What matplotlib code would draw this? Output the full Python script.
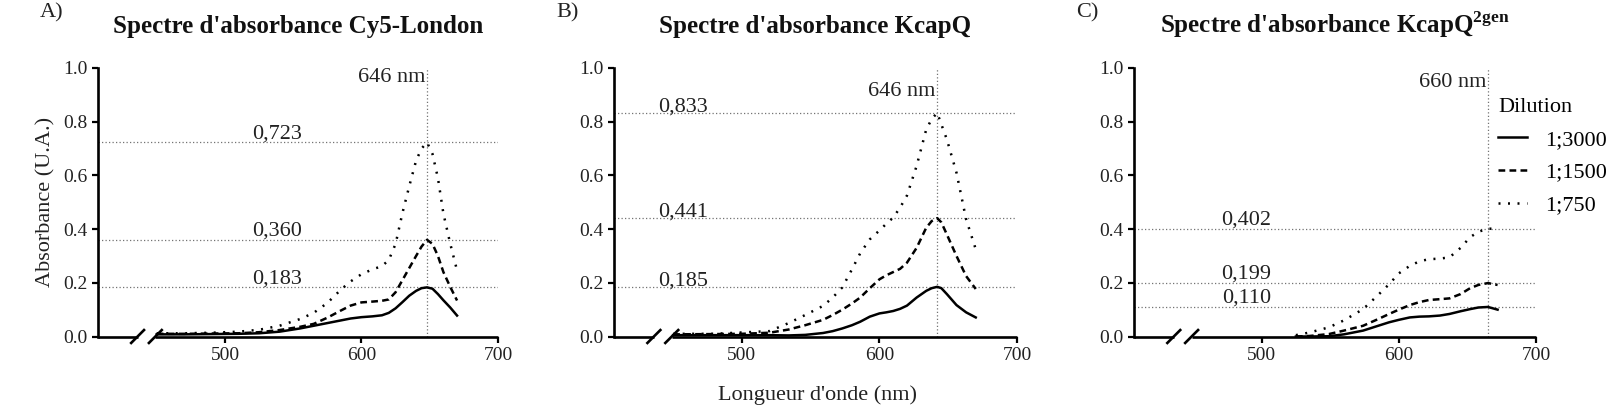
import matplotlib
matplotlib.use('Agg')
import matplotlib.pyplot as plt
from matplotlib.lines import Line2D

plt.rcParams['font.family'] = ['Liberation Serif', 'DejaVu Serif']
plt.rcParams['mathtext.fontset'] = 'custom'
plt.rcParams['mathtext.rm'] = 'Liberation Serif'
plt.rcParams['mathtext.bf'] = 'Liberation Serif:bold'

# --- données ---
dilutions = ['1;3000', '1;1500', '1;750']

# A) Cy5-London
wl_a = [450, 470, 490, 510, 525, 540, 555, 565, 575, 585, 592, 600, 608, 615, 620,
        625, 630, 635, 640, 644, 648, 652, 656, 660, 665, 670]
a_3000 = [0.008, 0.008, 0.009, 0.010, 0.012, 0.018, 0.030, 0.040, 0.050, 0.060, 0.067, 0.072,
          0.075, 0.079, 0.088, 0.105, 0.128, 0.152, 0.170, 0.180, 0.183, 0.178, 0.158, 0.135,
          0.108, 0.078]
a_1500 = [0.010, 0.010, 0.011, 0.012, 0.016, 0.024, 0.036, 0.047, 0.070, 0.097, 0.115, 0.127,
          0.130, 0.133, 0.138, 0.165, 0.210, 0.255, 0.300, 0.335, 0.360, 0.345, 0.300, 0.240,
          0.185, 0.134]
a_750 = [0.012, 0.012, 0.014, 0.018, 0.025, 0.040, 0.065, 0.088, 0.125, 0.175, 0.205, 0.232,
         0.250, 0.262, 0.285, 0.345, 0.460, 0.560, 0.655, 0.700, 0.723, 0.680, 0.590, 0.458,
         0.346, 0.246]

# B) KcapQ
wl_b = [450, 480, 500, 520, 534, 546, 559, 566, 573, 580, 586, 593, 600, 605, 610, 615,
        620, 627, 634, 638, 642, 645, 649, 656, 663, 670]
b_3000 = [0.005, 0.005, 0.005, 0.005, 0.004, 0.006, 0.013, 0.020, 0.030, 0.042, 0.055, 0.074,
          0.086, 0.090, 0.095, 0.103, 0.115, 0.145, 0.170, 0.180, 0.185, 0.180, 0.158, 0.117,
          0.090, 0.071]
b_1500 = [0.008, 0.009, 0.010, 0.014, 0.026, 0.042, 0.062, 0.080, 0.100, 0.123, 0.145, 0.180,
          0.213, 0.228, 0.240, 0.252, 0.275, 0.330, 0.405, 0.430, 0.441, 0.425, 0.380, 0.300,
          0.225, 0.177]
b_750 = [0.010, 0.010, 0.015, 0.020, 0.050, 0.080, 0.114, 0.145, 0.183, 0.250, 0.310, 0.362,
         0.395, 0.420, 0.443, 0.480, 0.525, 0.635, 0.771, 0.810, 0.833, 0.790, 0.734, 0.610,
         0.437, 0.325]

# C) KcapQ 2gen
wl_c = [525, 535, 549, 560, 574, 585, 593, 600, 608, 615, 622, 630, 637, 645, 652, 658,
        665, 672]
c_3000 = [0.000, 0.000, 0.001, 0.008, 0.022, 0.040, 0.053, 0.062, 0.071, 0.074, 0.075, 0.078,
          0.084, 0.094, 0.102, 0.108, 0.110, 0.100]
c_1500 = [0.000, 0.002, 0.009, 0.022, 0.040, 0.065, 0.084, 0.100, 0.117, 0.128, 0.136, 0.139,
          0.142, 0.158, 0.180, 0.192, 0.199, 0.192]
c_750 = [0.005, 0.015, 0.034, 0.060, 0.102, 0.155, 0.195, 0.235, 0.263, 0.280, 0.288, 0.290,
         0.295, 0.330, 0.370, 0.390, 0.402, 0.400]

maxima_a = [0.723, 0.360, 0.183]
maxima_b = [0.833, 0.441, 0.185]
maxima_c = [0.402, 0.199, 0.110]
pic_a, pic_b, pic_c = 648, 642, 665
pic_labels = ['646 nm', '646 nm', '660 nm']
titres = ["Spectre d'absorbance Cy5-London",
          "Spectre d'absorbance KcapQ",
          r"Spectre d'absorbance KcapQ$^{\mathbf{2gen}}$"]
lettres = ['A)', 'B)', 'C)']

W, H = 1612, 408
fig = plt.figure(figsize=(W / 100, H / 100), dpi=100)

styles = [dict(ls='-'), dict(ls=(0, (2.7, 1.7))), dict(ls=(0, (0.8, 3.0)))]
X0, BRK1, BRK2 = 407, 436, 449


def panneau(left, right, wl, series, maxima, x_pic, lbl_pic, y_pic, x_val, dy_val):
    ax = fig.add_axes([left / W, 1 - 336.5 / H, (right - left) / W, (336.5 - 68) / H])
    for s, st in zip(series, styles):
        ax.plot(wl, s, color='black', lw=1.8, **st)
    for v in maxima:
        ax.axhline(v, color='0.45', lw=0.9, ls=(0, (1, 1.8)), zorder=0)
        ax.text(x_val, v + dy_val, '{:.3f}'.format(v).replace('.', ','),
                ha='center', va='baseline', fontsize=16, color='#222222')
    ax.axvline(x_pic, color='0.45', lw=0.9, ls=(0, (1, 1.8)), zorder=0)
    ax.text(x_pic - 1.5, y_pic, lbl_pic, ha='right', va='baseline', fontsize=16, color='#222222')

    ax.set_xlim(X0, 700)
    ax.set_ylim(0, 1)
    ax.set_xticks([500, 600, 700])
    ax.set_yticks([0, 0.2, 0.4, 0.6, 0.8, 1.0])
    ax.set_yticklabels(['0.0', '0.2', '0.4', '0.6', '0.8', '1.0'])
    for sp in ['top', 'right', 'bottom']:
        ax.spines[sp].set_visible(False)
    ax.spines['left'].set_linewidth(1.9)
    ax.tick_params(direction='out', length=4.5, width=1.6, labelsize=14,
                   labelcolor='#222222', pad=3)

    # axe x coupé
    tr = ax.get_xaxis_transform()
    ax.plot([X0, BRK1], [0, 0], color='black', lw=1.9, transform=tr, clip_on=False,
            solid_capstyle='butt')
    ax.plot([BRK2, 700], [0, 0], color='black', lw=1.9, transform=tr, clip_on=False,
            solid_capstyle='butt')
    for b in [BRK1, BRK2]:
        ax.plot([b - 4.7, b + 4.7], [-0.024, 0.024], color='black', lw=1.9,
                transform=tr, clip_on=False)
    return ax


axA = panneau(98, 498, wl_a, [a_3000, a_1500, a_750], maxima_a, pic_a, pic_labels[0],
              0.949, 538, 0.016)
axB = panneau(614, 1017, wl_b, [b_3000, b_1500, b_750], maxima_b, pic_b, pic_labels[1],
              0.895, 457, 0.006)
axC = panneau(1134, 1536, wl_c, [c_3000, c_1500, c_750], maxima_c, pic_c, pic_labels[2],
              0.93, 489, 0.015)

for ax, cx, t in zip([axA, axB, axC], [298, 815, 1335], titres):
    fig.text(cx / W, 1 - 33 / H, t, ha='center', va='baseline', fontsize=18,
             fontweight='bold', color='#111111')
for x, l in zip([40, 556, 1076], lettres):
    fig.text(x / W, 1 - 3 / H, l, ha='left', va='top', fontsize=16, color='#222222')

fig.text(46 / W, 1 - 202 / H, 'Absorbance (U.A.)', rotation=90, ha='center', va='center',
         fontsize=16, color='#222222')
fig.text(817 / W, 1 - 395 / H, "Longueur d'onde (nm)", ha='center', va='center',
         fontsize=16, color='#222222')

handles = [Line2D([], [], color='black', lw=1.8, **st) for st in styles]
axC.legend(handles, dilutions, title='Dilution', loc='upper left',
           bbox_to_anchor=(1498 / W, 1 - 98 / H), bbox_transform=fig.transFigure,
           frameon=False, fontsize=16, title_fontsize=16, handlelength=1.3,
           handletextpad=0.8, labelspacing=0.55, borderpad=0, borderaxespad=0,
           alignment='left')

fig.savefig('out.png', dpi=100)
